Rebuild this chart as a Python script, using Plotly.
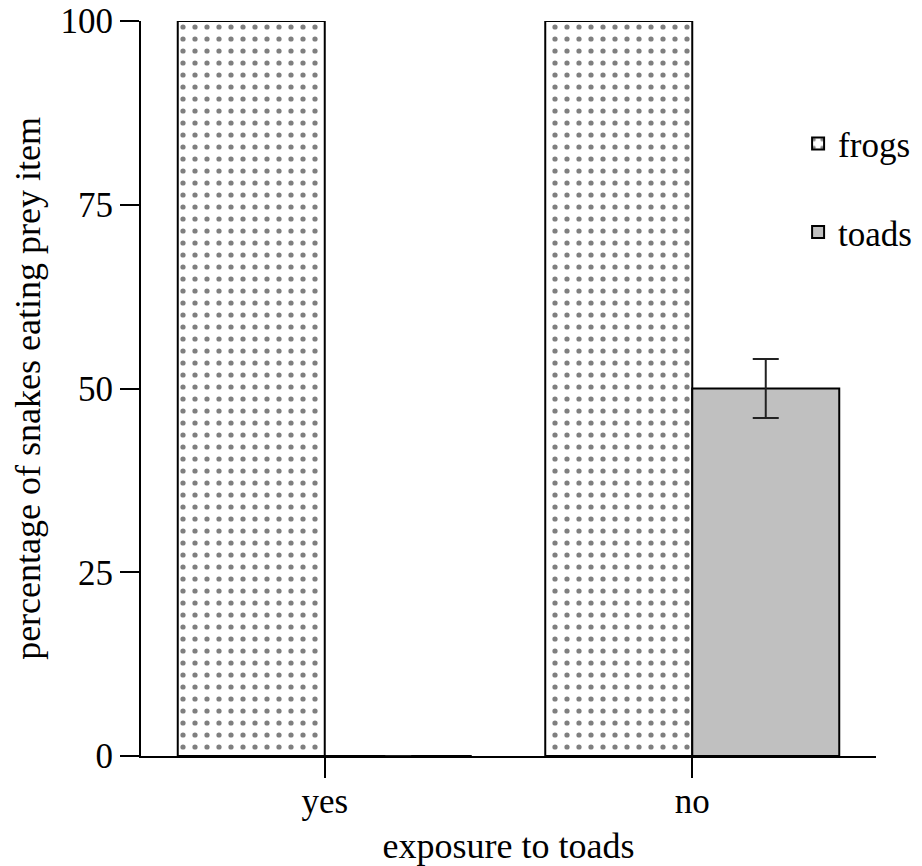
import plotly.graph_objects as go

categories = ["yes", "no"]
frogs = [100, 100]
toads = [0, 50]
toads_err = [None, 4]
y_ticks = [0, 25, 50, 75, 100]

FONT = "Liberation Serif"

fig = go.Figure()
fig.add_trace(go.Bar(
    x=categories, y=frogs, name="frogs", legendgroup="frogs",
    marker=dict(color="white", line=dict(color="black", width=2),
                pattern=dict(shape=".", size=12, solidity=0.15,
                             fgcolor="black", bgcolor="white")),
))
fig.add_trace(go.Bar(
    x=categories, y=toads, name="toads", legendgroup="toads",
    marker=dict(color="#c0c0c0", line=dict(color="black", width=2)),
    error_y=dict(type="data", array=toads_err, visible=True,
                 color="#222222", thickness=2, width=13),
))

# the page body keeps its default 8px margin, so the figure starts at (8, 8)
fig.update_layout(
    width=922, height=858,
    margin=dict(l=133, r=54, t=13, b=110),
    paper_bgcolor="white", plot_bgcolor="white",
    barmode="group", bargap=0.2, bargroupgap=0,
    font=dict(family=FONT, size=36, color="black"),
    legend=dict(x=0.894, y=0.873, xanchor="left", yanchor="top",
                font=dict(family=FONT, size=35, color="black"), tracegroupgap=40,
                bgcolor="rgba(0,0,0,0)"),
    showlegend=True,
)
fig.update_xaxes(
    type="category", range=[-0.5, 1.5], automargin=False,
    showline=True, linecolor="black", linewidth=2,
    ticks="outside", ticklen=20, tickwidth=2, tickcolor="black",
    ticklabelstandoff=-7,
    tickfont=dict(family=FONT, size=35, color="black"), showgrid=False, zeroline=False,
    title=dict(text="exposure to toads", font=dict(family=FONT, size=36, color="black"), standoff=20),
)
fig.update_yaxes(
    range=[0, 100], tickvals=y_ticks, ticktext=[str(v) for v in y_ticks], automargin=False,
    ticklabeloverflow="allow",
    showline=True, linecolor="black", linewidth=2,
    ticks="outside", ticklen=19, tickwidth=2, tickcolor="black",
    tickfont=dict(family=FONT, size=35, color="black"), showgrid=False, zeroline=False,
    title=dict(text="percentage of snakes eating prey item", font=dict(family=FONT, size=36, color="black"), standoff=24),
)

fig.write_html("out.html")
